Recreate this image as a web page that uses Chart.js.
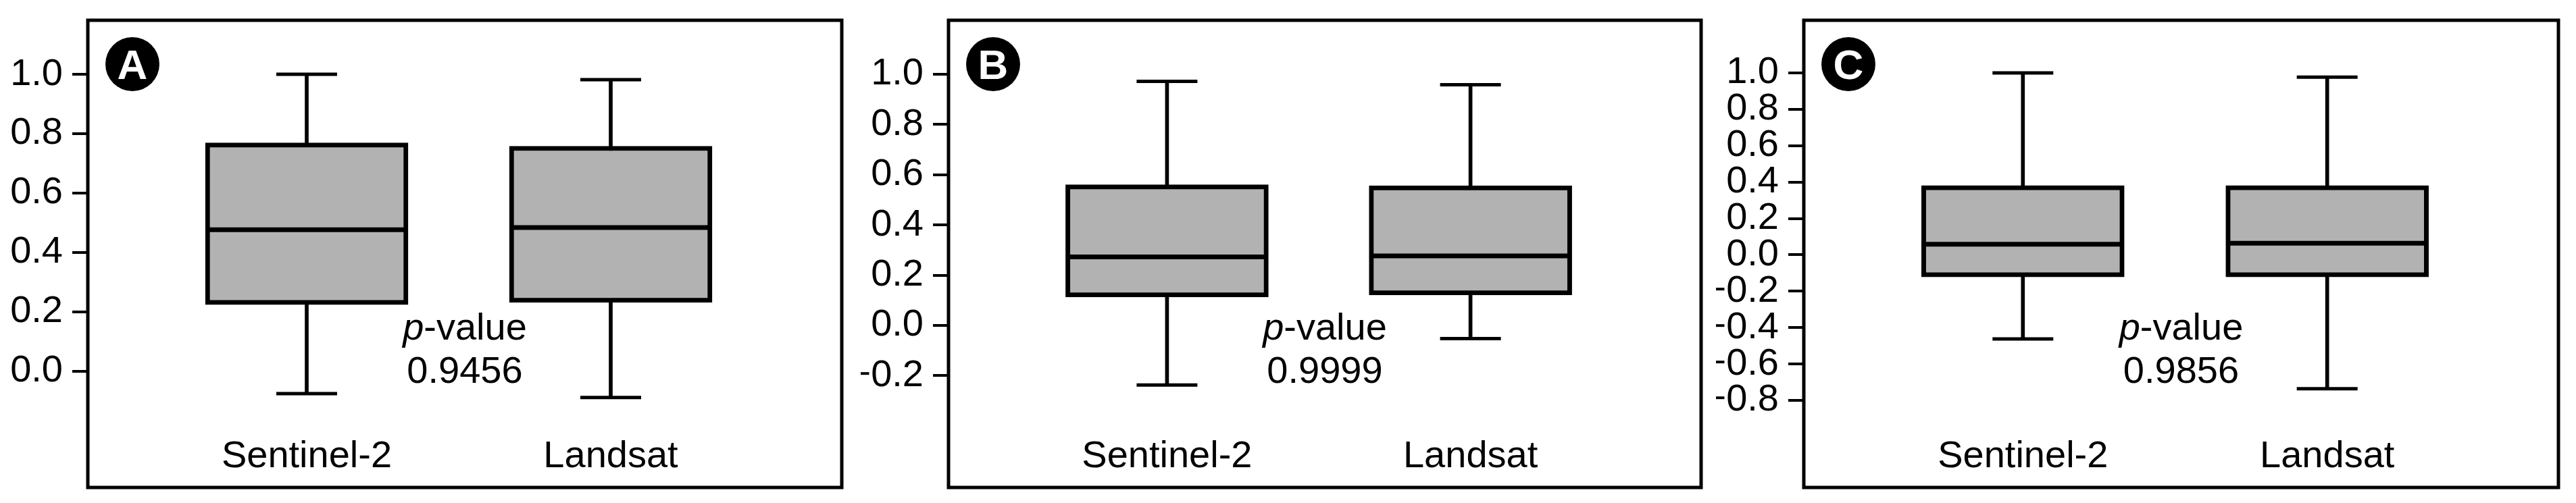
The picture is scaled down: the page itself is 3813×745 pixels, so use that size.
<!DOCTYPE html>
<html>
<head>
<meta charset="utf-8">
<script src="https://cdn.jsdelivr.net/npm/chart.js@4.4.1/dist/chart.umd.min.js"></script>
<style>
  body { margin: 0; background: #fff; }
  #wrap { position: relative; width: 3813px; height: 745px; overflow: hidden; background: #fff; }
  canvas { position: absolute; top: 0; }
</style>
</head>
<body>
<div id="wrap">
  <canvas id="chartA" width="1300" height="745" style="left:0px"></canvas>
  <canvas id="chartB" width="1300" height="745" style="left:1274px"></canvas>
  <canvas id="chartC" width="1273" height="745" style="left:2540px"></canvas>
</div>
<script>
const categories = ['Sentinel-2', 'Landsat'];
const pValues = ['0.9456', '0.9999', '0.9856'];

// panel A
const maxA = [1.0, 0.982];
const q3A = [0.769, 0.758];
const medA = [0.477, 0.484];
const q1A = [0.2245, 0.232];
const minA = [-0.075, -0.088];
const ticksA = [0.0, 0.2, 0.4, 0.6, 0.8, 1.0];

// panel B
const maxB = [0.972, 0.958];
const q3B = [0.560, 0.556];
const medB = [0.273, 0.277];
const q1B = [0.1135, 0.121];
const minB = [-0.237, -0.052];
const ticksB = [-0.2, 0.0, 0.2, 0.4, 0.6, 0.8, 1.0];

// panel C
const maxC = [1.0, 0.977];
const q3C = [0.381, 0.381];
const medC = [0.058, 0.064];
const q1C = [-0.122, -0.122];
const minC = [-0.462, -0.736];
const ticksC = [-0.8, -0.6, -0.4, -0.2, 0.0, 0.2, 0.4, 0.6, 0.8, 1.0];

const FONT = '"Liberation Sans", Arial, Helvetica, sans-serif';
Chart.defaults.font.family = FONT;
Chart.defaults.color = '#000';

function fmt(v) {
    return (v < 0 ? '\u2212' : '') + Math.abs(v).toFixed(1);
}

// frame, letter badge, category names and p-value
const panelDecor = {
    id: 'panelDecor',
    afterDraw(chart, args, opts) {
        const ctx = chart.ctx;
        const a = chart.chartArea;
        const x = chart.scales.x;
        ctx.save();
        ctx.lineWidth = 5;
        ctx.strokeStyle = '#000';
        ctx.strokeRect(a.left, a.top, a.right - a.left, a.bottom - a.top);

        ctx.beginPath();
        ctx.arc(a.left + 66, a.top + 65, 40, 0, Math.PI * 2);
        ctx.fillStyle = '#000';
        ctx.fill();
        ctx.fillStyle = '#fff';
        ctx.font = 'bold 62px ' + FONT;
        ctx.textAlign = 'center';
        ctx.textBaseline = 'alphabetic';
        ctx.fillText(opts.letter, a.left + 66, a.top + 87);

        ctx.fillStyle = '#000';
        ctx.font = '56px ' + FONT;
        categories.forEach((c, i) => {
            ctx.fillText(c, x.getPixelForValue(i + 1), a.bottom - 30);
        });

        const cx = (a.left + a.right) / 2;
        const italic = 'italic 56px ' + FONT;
        const normal = '56px ' + FONT;
        ctx.font = italic;
        const wp = ctx.measureText('p').width;
        ctx.font = normal;
        const wv = ctx.measureText('-value').width;
        const x0 = cx - (wp + wv) / 2;
        ctx.textAlign = 'left';
        ctx.font = italic;
        ctx.fillText('p', x0, a.bottom - 219);
        ctx.font = normal;
        ctx.fillText('-value', x0 + wp, a.bottom - 219);
        ctx.textAlign = 'center';
        ctx.fillText(opts.pValue, cx, a.bottom - 155);
        ctx.restore();
    }
};

function makePanel(id, letter, pValue, lo, q1, med, q3, hi, yMin, yMax, tickVals, padRight) {
    const pts = arr => arr.map((v, i) => ({ x: i + 1, y: v }));
    const ranges = (a, b) => a.map((v, i) => ({ x: i + 1, y: [v, b[i]] }));
    new Chart(document.getElementById(id), {
        type: 'bar',
        data: {
            datasets: [
                {
                    type: 'bar',
                    data: ranges(lo, hi),
                    backgroundColor: '#000',
                    barThickness: 5,
                    grouped: false,
                    order: 3
                },
                {
                    type: 'bar',
                    data: ranges(q1, q3),
                    backgroundColor: '#b2b2b2',
                    borderColor: '#000',
                    borderWidth: 7,
                    borderSkipped: false,
                    barThickness: 300,
                    grouped: false,
                    order: 2
                },
                {
                    type: 'scatter',
                    data: pts(med),
                    pointStyle: 'line',
                    pointRadius: 148,
                    pointBorderWidth: 7,
                    pointBorderColor: '#000',
                    borderColor: '#000',
                    order: 1
                },
                {
                    type: 'scatter',
                    data: pts(hi).concat(pts(lo)),
                    pointStyle: 'line',
                    pointRadius: 45,
                    pointBorderWidth: 5,
                    pointBorderColor: '#000',
                    borderColor: '#000',
                    order: 1
                }
            ]
        },
        options: {
            responsive: false,
            animation: false,
            events: [],
            layout: { autoPadding: false, padding: { left: 0, top: 30, right: padRight, bottom: 23 } },
            plugins: {
                legend: { display: false },
                tooltip: { enabled: false },
                panelDecor: { letter: letter, pValue: pValue }
            },
            scales: {
                x: { type: 'linear', display: false, min: 0.28, max: 2.76, offset: false },
                y: {
                    type: 'linear',
                    min: yMin,
                    max: yMax,
                    afterBuildTicks: s => { s.ticks = tickVals.map(v => ({ value: v })); },
                    afterFit: s => { s.width = 130; s.paddingTop = 0; s.paddingBottom = 0; },
                    ticks: {
                        autoSkip: false,
                        padding: 14,
                        color: '#000',
                        font: { size: 56 },
                        callback: v => fmt(v)
                    },
                    grid: {
                        drawOnChartArea: false,
                        drawTicks: true,
                        tickLength: 23,
                        lineWidth: 4,
                        color: '#000'
                    },
                    border: { display: false }
                }
            }
        },
        plugins: [panelDecor]
    });
}

makePanel('chartA', 'A', pValues[0], minA, q1A, medA, q3A, maxA, -0.391, 1.182, ticksA, 54);
makePanel('chartB', 'B', pValues[1], minB, q1B, medB, q3B, maxB, -0.645, 1.215, ticksB, 56);
makePanel('chartC', 'C', pValues[2], minC, q1C, medC, q3C, maxC, -1.279, 1.2895, ticksC, 26);
</script>
</body>
</html>
